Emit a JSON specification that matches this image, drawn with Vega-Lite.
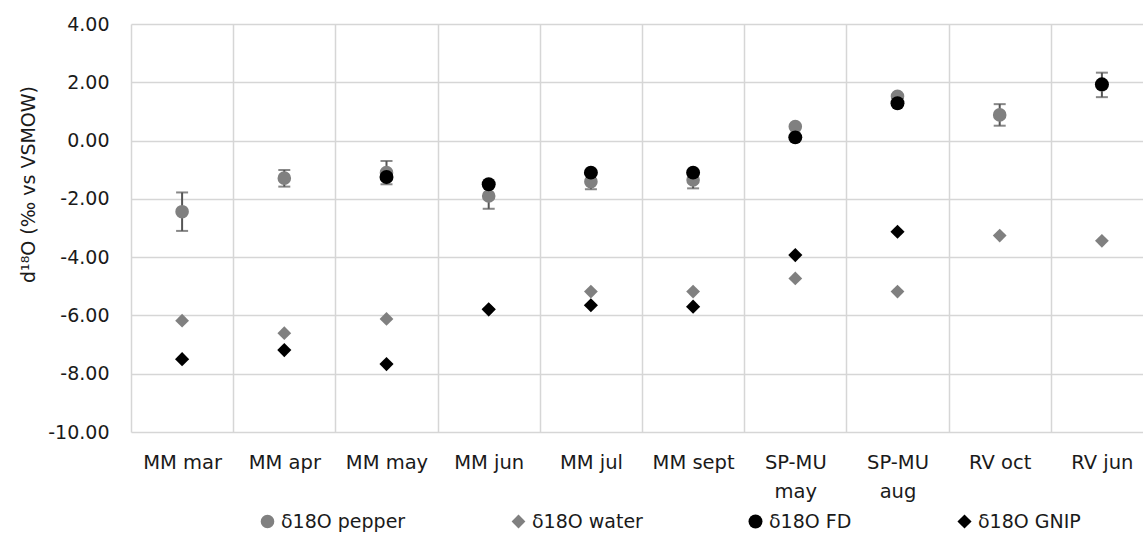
{
  "$schema": "https://vega.github.io/schema/vega-lite/v6.json",
  "width": 1012,
  "height": 408,
  "autosize": {"type": "none"},
  "padding": {"left": 131, "top": 24, "right": 0, "bottom": 102},
  "background": "white",
  "config": {
    "font": "DejaVu Sans",
    "view": {"stroke": null},
    "axis": {"labelFont": "DejaVu Sans", "titleFont": "DejaVu Sans", "labelColor": "#1a1a1a", "titleColor": "#1a1a1a"}
  },
  "datasets": {
    "points": [
      {"cat": "MM mar", "series": "δ18O pepper", "value": -2.44},
      {"cat": "MM apr", "series": "δ18O pepper", "value": -1.29},
      {"cat": "MM may", "series": "δ18O pepper", "value": -1.10},
      {"cat": "MM jun", "series": "δ18O pepper", "value": -1.90},
      {"cat": "MM jul", "series": "δ18O pepper", "value": -1.41},
      {"cat": "MM sept", "series": "δ18O pepper", "value": -1.35},
      {"cat": "SP-MU may", "series": "δ18O pepper", "value": 0.48},
      {"cat": "SP-MU aug", "series": "δ18O pepper", "value": 1.52},
      {"cat": "RV oct", "series": "δ18O pepper", "value": 0.88},
      {"cat": "RV jun", "series": "δ18O pepper", "value": 1.91},
      {"cat": "MM mar", "series": "δ18O water", "value": -6.18},
      {"cat": "MM apr", "series": "δ18O water", "value": -6.61},
      {"cat": "MM may", "series": "δ18O water", "value": -6.12},
      {"cat": "MM jun", "series": "δ18O water", "value": -5.80},
      {"cat": "MM jul", "series": "δ18O water", "value": -5.18},
      {"cat": "MM sept", "series": "δ18O water", "value": -5.18},
      {"cat": "SP-MU may", "series": "δ18O water", "value": -4.73},
      {"cat": "SP-MU aug", "series": "δ18O water", "value": -5.18},
      {"cat": "RV oct", "series": "δ18O water", "value": -3.26},
      {"cat": "RV jun", "series": "δ18O water", "value": -3.44},
      {"cat": "MM may", "series": "δ18O FD", "value": -1.25},
      {"cat": "MM jun", "series": "δ18O FD", "value": -1.50},
      {"cat": "MM jul", "series": "δ18O FD", "value": -1.10},
      {"cat": "MM sept", "series": "δ18O FD", "value": -1.10},
      {"cat": "SP-MU may", "series": "δ18O FD", "value": 0.11},
      {"cat": "SP-MU aug", "series": "δ18O FD", "value": 1.28},
      {"cat": "RV jun", "series": "δ18O FD", "value": 1.93},
      {"cat": "MM mar", "series": "δ18O GNIP", "value": -7.50},
      {"cat": "MM apr", "series": "δ18O GNIP", "value": -7.19},
      {"cat": "MM may", "series": "δ18O GNIP", "value": -7.67},
      {"cat": "MM jun", "series": "δ18O GNIP", "value": -5.79},
      {"cat": "MM jul", "series": "δ18O GNIP", "value": -5.65},
      {"cat": "MM sept", "series": "δ18O GNIP", "value": -5.70},
      {"cat": "SP-MU may", "series": "δ18O GNIP", "value": -3.93},
      {"cat": "SP-MU aug", "series": "δ18O GNIP", "value": -3.13}
    ],
    "errors": [
      {"cat": "MM mar", "lo": -3.10, "hi": -1.78},
      {"cat": "MM apr", "lo": -1.58, "hi": -1.01},
      {"cat": "MM may", "lo": -1.50, "hi": -0.70},
      {"cat": "MM jun", "lo": -2.34, "hi": -1.46},
      {"cat": "MM jul", "lo": -1.67, "hi": -1.15},
      {"cat": "MM sept", "lo": -1.64, "hi": -1.06},
      {"cat": "RV oct", "lo": 0.51, "hi": 1.25},
      {"cat": "RV jun", "lo": 1.49, "hi": 2.33}
    ]
  },
  "encoding": {
    "x": {
      "field": "cat",
      "type": "nominal",
      "sort": ["MM mar", "MM apr", "MM may", "MM jun", "MM jul", "MM sept", "SP-MU may", "SP-MU aug", "RV oct", "RV jun"],
      "scale": {"paddingInner": 0, "paddingOuter": 0, "range": [0, 1022]},
      "axis": {
        "title": null,
        "labelAngle": 0,
        "labelFontSize": 19.5,
        "labelPadding": 21,
        "labelLineHeight": 29,
        "labelExpr": "indexof(datum.label, 'SP-MU') == 0 ? split(datum.label, ' ') : datum.label",
        "domain": false,
        "ticks": false,
        "tickBand": "extent",
        "grid": true,
        "gridColor": "#d6d6d6",
        "gridWidth": 1.5
      }
    }
  },
  "layer": [
    {
      "mark": {"type": "rule", "color": "#bdbdbd", "strokeWidth": 1.5},
      "encoding": {"y": {"datum": 0, "type": "quantitative"}, "x": {"value": 0}, "x2": {"value": 1100}}
    },
    {
      "data": {"name": "errors"},
      "mark": {"type": "rule", "color": "#555555", "strokeWidth": 2},
      "encoding": {
        "y": {"field": "lo", "type": "quantitative"},
        "y2": {"field": "hi"}
      }
    },
    {
      "data": {"name": "errors"},
      "mark": {"type": "tick", "color": "#555555", "thickness": 2, "size": 12},
      "encoding": {"y": {"field": "lo", "type": "quantitative"}}
    },
    {
      "data": {"name": "errors"},
      "mark": {"type": "tick", "color": "#555555", "thickness": 2, "size": 12},
      "encoding": {"y": {"field": "hi", "type": "quantitative"}}
    },
    {
      "data": {"name": "points"},
      "mark": {"type": "point", "filled": true, "opacity": 1},
      "encoding": {
        "y": {
          "field": "value",
          "type": "quantitative",
          "scale": {"domain": [-10, 4], "nice": false, "zero": false},
          "axis": {
            "title": "d¹⁸O (‰ vs VSMOW)",
            "titleFontSize": 19,
            "titleFontWeight": "normal",
            "titleX": -103,
            "titleY": 160,
            "titleBaseline": "middle",
            "values": [-10, -8, -6, -4, -2, 0, 2, 4],
            "labelExpr": "replace(format(datum.value, '.2f'), '−', '-')",
            "labelFontSize": 19,
            "labelPadding": 22,
            "domain": false,
            "ticks": false,
            "grid": true,
            "gridColor": "#d6d6d6",
            "gridWidth": 1.5
          }
        },
        "color": {
          "field": "series",
          "type": "nominal",
          "scale": {
            "domain": ["δ18O pepper", "δ18O water", "δ18O FD", "δ18O GNIP"],
            "range": ["#808080", "#808080", "#000000", "#000000"]
          },
          "legend": {
            "title": null,
            "orient": "none",
            "legendX": 127,
            "legendY": 488,
            "direction": "horizontal",
            "columns": 4,
            "gridAlign": "none",
            "columnPadding": 103,
            "labelFontSize": 19,
            "labelFont": "DejaVu Sans",
            "labelColor": "#1a1a1a",
            "labelOffset": 4,
            "symbolSize": 150
          }
        },
        "shape": {
          "field": "series",
          "type": "nominal",
          "scale": {
            "domain": ["δ18O pepper", "δ18O water", "δ18O FD", "δ18O GNIP"],
            "range": ["circle", "diamond", "circle", "diamond"]
          }
        },
        "size": {
          "field": "series",
          "type": "nominal",
          "scale": {
            "domain": ["δ18O pepper", "δ18O water", "δ18O FD", "δ18O GNIP"],
            "range": [185, 200, 185, 220]
          },
          "legend": null
        }
      }
    }
  ]
}
